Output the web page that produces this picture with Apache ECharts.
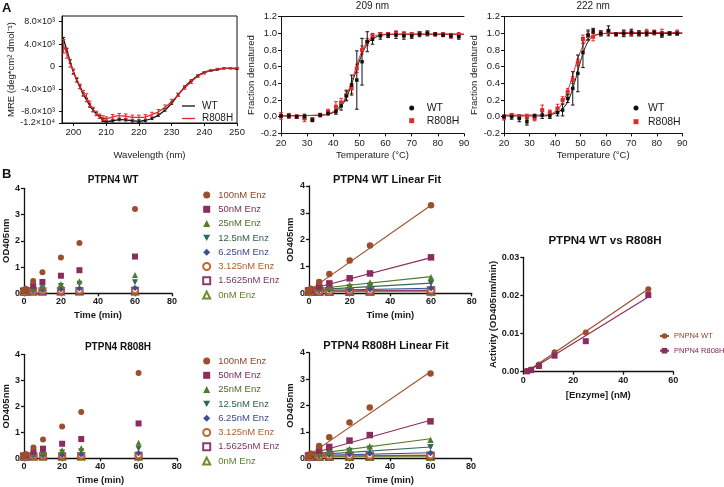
<!DOCTYPE html>
<html><head><meta charset="utf-8">
<script src="https://cdn.jsdelivr.net/npm/echarts@6/dist/echarts.min.js"></script>
<style>html,body{margin:0;padding:0;background:#fff}#c{width:724px;height:487px}</style>
</head><body><div id="c"></div>
<script>
const FONT = "'Liberation Sans', Arial, Helvetica, sans-serif";

// ---------------- Panel A: CD spectrum ----------------
const wavelengths = [197,198,199,200,201,202,203,204,205,206,207,208,209,210,212,214,216,218,220,222,224,226,228,230,232,234,236,238,240,242,244,246,248,250];
const mreWT = [4800,2900,900,-900,-2400,-3600,-4900,-5900,-6900,-7700,-8400,-8900,-9500,-9750,-9600,-9400,-9450,-9600,-9700,-9550,-9200,-8600,-7700,-6500,-5000,-3600,-2500,-1600,-1000,-700,-500,-300,-300,-400];
const mreWTErr = [400,300,300,300,300,300,300,300,300,300,250,250,250,250,200,200,200,200,200,200,200,200,200,200,200,150,150,150,100,100,100,100,100,100];
const mreR808H = [3600,2400,600,-900,-2300,-3500,-4700,-5500,-6600,-7600,-8300,-8800,-9100,-9200,-8900,-8700,-8800,-9000,-9000,-8900,-8500,-8000,-7200,-6200,-5000,-3700,-2700,-1700,-1100,-700,-450,-300,-250,-250];
const mreR808HErr = [1200,900,700,500,400,400,500,700,500,400,400,400,400,300,400,400,400,400,400,400,400,400,400,400,300,300,300,200,200,150,150,100,100,100];
const mreTickValues = [-10000,-8000,-4000,0,4000,8000];
const mreTickLabels = ['-1.2×10⁴','-8.0×10³','-4.0×10³','0','4.0×10³','8.0×10³'];
const wlTickValues = [200,210,220,230,240,250];

// ---------------- Panel A: thermal melts ----------------
const meltTemps = [20,23,26,29,32,35,38,41,43,45,47,49,51,53,55,58,61,64,67,70,73,76,79,82,85,88];
const frac209WT = [0.01,0.01,0.00,0.00,-0.04,0.02,0.04,0.06,0.13,0.25,0.38,0.44,0.66,0.90,0.93,0.97,0.98,0.98,0.97,0.97,0.99,1.00,0.99,0.98,0.97,0.96];
const err209WT = [0.02,0.02,0.02,0.03,0.02,0.02,0.02,0.03,0.05,0.06,0.12,0.35,0.28,0.12,0.06,0.04,0.03,0.04,0.04,0.03,0.03,0.03,0.02,0.02,0.02,0.03];
const frac209R = [0.01,0.01,0.00,-0.02,-0.03,0.02,0.06,0.12,0.17,0.26,0.34,0.58,0.80,0.90,0.97,0.99,0.99,1.00,0.99,0.99,1.00,1.00,0.99,0.99,0.97,0.98];
const err209R = [0.04,0.03,0.02,0.04,0.02,0.02,0.03,0.06,0.05,0.06,0.06,0.05,0.05,0.04,0.03,0.02,0.02,0.03,0.03,0.02,0.02,0.02,0.02,0.02,0.03,0.03];
const frac222WT = [0.00,0.00,-0.02,-0.06,0.01,0.02,0.01,0.05,0.08,0.22,0.34,0.52,0.77,0.98,1.03,1.00,1.03,0.99,1.00,1.01,1.00,1.00,1.01,0.99,1.00,1.00];
const err222WT = [0.02,0.03,0.04,0.04,0.02,0.04,0.03,0.04,0.07,0.05,0.20,0.22,0.18,0.06,0.03,0.03,0.06,0.02,0.04,0.04,0.03,0.03,0.02,0.03,0.02,0.02];
const frac222R = [-0.01,0.02,0.00,0.00,-0.02,0.08,0.05,0.10,0.20,0.30,0.44,0.65,0.93,0.97,0.96,1.00,1.02,0.99,1.00,1.00,1.00,1.01,1.01,1.00,1.00,1.01];
const err222R = [0.03,0.02,0.02,0.03,0.03,0.06,0.03,0.05,0.04,0.04,0.04,0.04,0.05,0.05,0.05,0.03,0.03,0.02,0.03,0.03,0.03,0.04,0.03,0.05,0.02,0.03];
const fitTemps = [20,36,38,40,42,44,45,46,47,48,49,50,51,52,53,54,55,56,58,60,65,90];
const fit209WT = [0.01,0.02,0.03,0.05,0.09,0.17,0.23,0.30,0.39,0.48,0.57,0.67,0.75,0.82,0.87,0.91,0.93,0.95,0.975,0.985,0.99,0.99];
const fit209R = [0.01,0.02,0.04,0.06,0.11,0.19,0.26,0.33,0.42,0.52,0.62,0.71,0.79,0.85,0.90,0.93,0.95,0.97,0.985,0.99,0.99,0.99];
const fit222WT = [0.01,0.01,0.02,0.04,0.07,0.13,0.18,0.25,0.34,0.44,0.55,0.66,0.76,0.84,0.90,0.94,0.965,0.98,0.99,1.00,1.00,1.00];
const fit222R = [0.02,0.02,0.03,0.06,0.12,0.23,0.31,0.40,0.50,0.60,0.70,0.78,0.85,0.90,0.94,0.96,0.975,0.985,0.995,1.00,1.01,1.01];

// ---------------- Panel B: kinetics ----------------
const enzLabels = ['100nM Enz','50nM Enz','25nM Enz','12.5nM Enz','6.25nM Enz','3.125nM Enz','1.5625nM Enz','0nM Enz'];
const timesMin = [0,1,5,10,20,30,60];
// data shown in "PTPN4 WT" scatter and "PTPN4 R808H Linear Fit"
const odA_100 = [0.10,0.17,0.47,0.80,1.36,1.92,3.21];
const odA_50 = [0.10,0.13,0.29,0.43,0.67,0.88,1.40];
const odA_25 = [0.09,0.10,0.17,0.24,0.35,0.46,0.70];
const odA_12 = [0.08,0.09,0.14,0.19,0.28,0.36,0.42];
const odA_6 = [0.08,0.09,0.11,0.13,0.15,0.18,0.20];
const odA_3 = [0.07,0.08,0.09,0.10,0.10,0.11,0.12];
const odA_1 = [0.07,0.07,0.08,0.08,0.09,0.09,0.10];
const odA_0 = [0.06,0.06,0.06,0.06,0.06,0.06,0.06];
// data shown in "PTPN4 WT Linear Fit" and "PTPN4 R808H" scatter
const odB_100 = [0.10,0.17,0.42,0.72,1.22,1.78,3.28];
const odB_50 = [0.10,0.12,0.25,0.37,0.56,0.74,1.34];
const odB_25 = [0.09,0.10,0.18,0.23,0.31,0.40,0.60];
const odB_12 = [0.08,0.09,0.14,0.17,0.22,0.27,0.37];
const odB_6 = [0.08,0.09,0.11,0.12,0.13,0.15,0.19];
const odB_3 = [0.07,0.08,0.09,0.09,0.10,0.10,0.12];
const odB_1 = [0.07,0.07,0.08,0.08,0.08,0.09,0.10];
const odB_0 = [0.06,0.06,0.06,0.06,0.06,0.06,0.06];
const fitTimes = [0,60];
const fitA_start = [0.12,0.15,0.14,0.12,0.10,0.08,0.07,0.06];
const fitA_end = [3.28,1.44,0.74,0.43,0.21,0.12,0.10,0.06];
const fitB_start = [0.10,0.14,0.14,0.12,0.10,0.08,0.07,0.06];
const fitB_end = [3.28,1.33,0.62,0.38,0.19,0.12,0.10,0.06];

// ---------------- Panel B: activity vs enzyme ----------------
const enzConc = [1.5625,3.125,6.25,12.5,25,50];
const actWT = [0.0002,0.0006,0.0019,0.0051,0.0103,0.0216];
const actR808H = [0.0001,0.0004,0.0015,0.0042,0.0080,0.0201];
const actFitConc = [1.5625,50];
const actFitWT = [0.0001,0.0217];
const actFitR808H = [0.0000,0.0196];

// ---------------- styles ----------------
const DOWN_TRI = 'path://M0,0 L10,0 L5,9 Z';
const enzColors = ['#9c4f2b','#8a2d5c','#557a2a','#2d6a5a','#3a4e9c','#c0652f','#8b3a6c','#6f8f2a'];
const enzTextColors = ['#8a4a2c','#7d2a55','#4d6b2a','#2d5f52','#3b4a86','#b0602f','#7d3563','#5f7f26'];
const enzSymbols = ['circle','rect','triangle',DOWN_TRI,'diamond','emptyCircle','emptyRect','emptyTriangle'];
const RED = '#e02a2a';

const grids=[], xAxes=[], yAxes=[], series=[], legends=[], graphics=[];

function mkAxis(gi, o){
  const bold = !!o.bold;
  const a = {
    type:'value', gridIndex:gi, min:o.min, max:o.max,
    position:o.position,
    axisLine:{show:true,onZero:false,lineStyle:{color:'#111',width:o.lw||1}},
    axisTick:{show:o.noTick?false:true,length:o.tl||3,lineStyle:{color:'#111',width:o.lw||1}},
    axisLabel:{show:o.noLabel?false:true,color:'#1a1a1a',fontSize:o.fs||9.5,fontFamily:FONT,fontWeight:bold?'bold':'normal',margin:o.margin||4},
    splitLine:{show:false},
    name:o.name||'', nameLocation:'middle', nameGap:o.nameGap||10,
    nameTextStyle:{color:'#1a1a1a',fontSize:o.nfs||10,fontFamily:FONT,fontWeight:bold?'bold':'normal'}
  };
  if (o.interval!=null) a.interval=o.interval;
  if (o.fmt) a.axisLabel.formatter=o.fmt;
  if (o.customValues){ a.axisLabel.customValues=o.customValues; a.axisTick.customValues=o.customValues; }
  return a;
}
function addGrid(g){ grids.push(Object.assign({containLabel:false},g)); return grids.length-1; }
function addX(gi,o){ xAxes.push(mkAxis(gi,o)); return xAxes.length-1; }
function addY(gi,o){ yAxes.push(mkAxis(gi,o)); return yAxes.length-1; }

function errSeries(name, xi, yi, xs, vals, errs, color, cap){
  return {
    type:'custom', name, xAxisIndex:xi, yAxisIndex:yi, silent:true, z:4, clip:false,
    data: xs.map((x,i)=>[x, vals[i]-errs[i], vals[i]+errs[i]]),
    renderItem:(p,api)=>{
      const a=api.coord([api.value(0),api.value(1)]), b=api.coord([api.value(0),api.value(2)]);
      const st={stroke:color,lineWidth:1};
      return {type:'group',children:[
        {type:'line',shape:{x1:a[0],y1:a[1],x2:b[0],y2:b[1]},style:st},
        {type:'line',shape:{x1:a[0]-cap,y1:a[1],x2:a[0]+cap,y2:a[1]},style:st},
        {type:'line',shape:{x1:b[0]-cap,y1:b[1],x2:b[0]+cap,y2:b[1]},style:st}]};
    }
  };
}
const zip=(xs,ys)=>xs.map((x,i)=>[x,ys[i]]);

// ===== A: CD =====
{
  const gi = addGrid({left:62, top:16, width:175, height:107, show:true, borderColor:'#111', borderWidth:1});
  const xi = addX(gi,{min:196.5,max:250,customValues:wlTickValues,name:'Wavelength (nm)',nameGap:27,nfs:9.5,margin:4});
  const yi = addY(gi,{min:-10000,max:9000,customValues:mreTickValues,fmt:v=>mreTickLabels[mreTickValues.indexOf(v)]||'',
      name:'MRE (deg*cm² dmol⁻¹)',nameGap:45,nfs:9.5,fs:9,margin:7});
  series.push({type:'line',name:'cd_WT',xAxisIndex:xi,yAxisIndex:yi,data:zip(wavelengths,mreWT),symbol:'none',smooth:0.3,
    lineStyle:{color:'#111',width:1.3},itemStyle:{color:'#111'},z:3});
  series.push({type:'line',name:'cd_R808H',xAxisIndex:xi,yAxisIndex:yi,data:zip(wavelengths,mreR808H),symbol:'none',smooth:0.3,
    lineStyle:{color:RED,width:1.3},itemStyle:{color:RED},z:3});
  series.push(errSeries('cd_WTerr',xi,yi,wavelengths,mreWT,mreWTErr,'#111',1.5));
  series.push(errSeries('cd_Rerr',xi,yi,wavelengths,mreR808H,mreR808HErr,RED,1.8));
  legends.push({orient:'vertical',left:182,top:99.75,padding:0,itemGap:0,itemWidth:13,itemHeight:10,selectedMode:false,
    icon:'path://M0,0 L13,0 L13,1.3 L0,1.3 Z',
    data:['cd_WT','cd_R808H'],formatter:n=>n.split('_')[1],
    textStyle:{fontFamily:FONT,fontSize:10,lineHeight:12.5,color:'#1a1a1a',padding:[0,0,0,2]}});
}

// ===== A: melts =====
function meltPanel(tag, left, width, wt, wtErr, r, rErr, fitW, fitR, title, legLeft, legPad, legLH){
  const gi = addGrid({left, top:16.7, width, height:116.7});
  const xi = addX(gi,{min:20,max:90,interval:10,name:'Temperature (°C)',nameGap:17,nfs:9.5,margin:5});
  addX(gi,{min:20,max:90,position:'top',noTick:true,noLabel:true});
  const yi = addY(gi,{min:-0.2,max:1.2,interval:0.2,fmt:v=>v.toFixed(1),name:'Fraction denatured',nameGap:22,nfs:9.5,margin:4});
  series.push({type:'line',name:tag+'fit_WT',xAxisIndex:xi,yAxisIndex:yi,data:zip(fitTemps,fitW),symbol:'none',smooth:0.4,
    lineStyle:{color:'#111',width:1},z:2});
  series.push({type:'line',name:tag+'fit_R808H',xAxisIndex:xi,yAxisIndex:yi,data:zip(fitTemps,fitR),symbol:'none',smooth:0.4,
    lineStyle:{color:RED,width:1},z:2});
  series.push(errSeries(tag+'errR',xi,yi,meltTemps,r,rErr,RED,1.8));
  series.push({type:'scatter',name:tag+'_R808H',xAxisIndex:xi,yAxisIndex:yi,data:zip(meltTemps,r),symbol:'rect',symbolSize:4,
    itemStyle:{color:RED,opacity:1},z:5});
  series.push(errSeries(tag+'errW',xi,yi,meltTemps,wt,wtErr,'#111',1.8));
  series.push({type:'scatter',name:tag+'_WT',xAxisIndex:xi,yAxisIndex:yi,data:zip(meltTemps,wt),symbol:'rect',symbolSize:3.5,
    itemStyle:{color:'#111',opacity:1},z:6});
  legends.push({orient:'vertical',left:legLeft,top:108-legLH/2,padding:0,itemGap:0,itemWidth:5,itemHeight:5,selectedMode:false,
    data:[{name:tag+'_WT',icon:'circle'},{name:tag+'_R808H',icon:'rect'}],formatter:n=>n.split('_')[1],
    textStyle:{fontFamily:FONT,fontSize:10.5,lineHeight:legLH,color:'#1a1a1a',padding:[0,0,0,legPad]}});
  graphics.push({type:'text',x:left+width/2,y:6.5,style:{text:title,align:'center',verticalAlign:'middle',font:'10px '+FONT,fill:'#1a1a1a'}});
}
meltPanel('m209',281,183,frac209WT,err209WT,frac209R,err209R,fit209WT,fit209R,'209 nm',409.2,7.5,12.7);
meltPanel('m222',504,178.3,frac222WT,err222WT,frac222R,err222R,fit222WT,fit222R,'222 nm',633.5,4.5,13.7);

// ===== B: kinetics =====
const setA = [odA_100,odA_50,odA_25,odA_12,odA_6,odA_3,odA_1,odA_0];
const setB = [odB_100,odB_50,odB_25,odB_12,odB_6,odB_3,odB_1,odB_0];
function kinPanel(tag, g, data, fitStart, fitEnd, title, titleX, titleY, nameGapY, legendTop, symSize, titleFs){
  const gi = addGrid(g);
  const xi = addX(gi,{min:0,max:80,interval:20,bold:true,fs:9,lw:1.3,name:'Time (min)',nameGap:17,nfs:9.5,margin:4});
  const yi = addY(gi,{min:0,max:4,interval:1,bold:true,fs:9,lw:1.3,name:'OD405nm',nameGap:nameGapY,nfs:9.5,margin:4});
  enzLabels.forEach((lab,k)=>{
    if (fitStart){
      series.push({type:'line',name:tag+'fit'+k,xAxisIndex:xi,yAxisIndex:yi,data:[[fitTimes[0],fitStart[k]],[fitTimes[1],fitEnd[k]]],
        symbol:'none',lineStyle:{color:enzColors[k],width:1.1},z:2});
    }
  });
  for (let k=enzLabels.length-1;k>=0;k--){
    const empty = enzSymbols[k].startsWith('empty');
    series.push({type:'scatter',name:tag+'_'+enzLabels[k],xAxisIndex:xi,yAxisIndex:yi,data:zip(timesMin,data[k]),
      symbol:enzSymbols[k],symbolSize:symSize,
      itemStyle:{color:enzColors[k],borderColor:enzColors[k],borderWidth:empty?1.2:0,opacity:1},z:5});
  }
  if (legendTop!=null){
    legends.push({orient:'vertical',left:202.2,top:legendTop,padding:0,itemGap:0,itemWidth:7,itemHeight:7,selectedMode:false,
      data:enzLabels.map((l,k)=>({name:tag+'_'+l,textStyle:{color:enzTextColors[k]}})),formatter:n=>n.split('_')[1],
      textStyle:{fontFamily:FONT,fontSize:9.5,lineHeight:14.3,padding:[0,0,0,3]}});
  }
  graphics.push({type:'text',x:titleX,y:titleY,style:{text:title,align:'center',verticalAlign:'middle',font:'bold '+titleFs+'px '+FONT,fill:'#111'}});
}
kinPanel('tl',{left:23.5,top:188.3,width:148.5,height:105},setA,null,null,'PTPN4 WT',113,180.5,11.5,187.85,6,10);
kinPanel('tm',{left:309,top:186,width:162.7,height:107.3},setB,fitB_start,fitB_end,'PTPN4 WT Linear Fit',387,179.5,14,null,6.5,11);
kinPanel('bl',{left:23.5,top:354.3,width:153.3,height:104},setB,null,null,'PTPN4 R808H',118,347,11.5,353.85,6,10);
kinPanel('bm',{left:309,top:352.7,width:162,height:105.6},setA,fitA_start,fitA_end,'PTPN4 R808H Linear Fit',386,346,14,null,6.5,11);

// ===== B: activity =====
{
  const gi = addGrid({left:523.3,top:257.3,width:150,height:114.4});
  const xi = addX(gi,{min:0,max:60,interval:20,bold:true,fs:9,lw:1.3,name:'[Enzyme] (nM)',nameGap:19,nfs:9.5,margin:4});
  const yi = addY(gi,{min:0,max:0.03,interval:0.01,bold:true,fs:9,lw:1.3,fmt:v=>v.toFixed(2),name:'Activity (OD405nm/min)',nameGap:20,nfs:9.5,margin:4});
  series.push({type:'line',name:'act_PNPN4 WT',xAxisIndex:xi,yAxisIndex:yi,data:zip(actFitConc,actFitWT),symbol:'circle',showSymbol:false,symbolSize:6,
    lineStyle:{color:enzColors[0],width:1.2},itemStyle:{color:enzColors[0]},z:2});
  series.push({type:'line',name:'act_PNPN4 R808H',xAxisIndex:xi,yAxisIndex:yi,data:zip(actFitConc,actFitR808H),symbol:'rect',showSymbol:false,symbolSize:6,
    lineStyle:{color:enzColors[1],width:1.2},itemStyle:{color:enzColors[1]},z:2});
  series.push({type:'scatter',name:'actpts_WT',xAxisIndex:xi,yAxisIndex:yi,data:zip(enzConc,actWT),symbol:'circle',symbolSize:6,
    itemStyle:{color:enzColors[0],opacity:1},z:5});
  series.push({type:'scatter',name:'actpts_R',xAxisIndex:xi,yAxisIndex:yi,data:zip(enzConc,actR808H),symbol:'rect',symbolSize:6,
    itemStyle:{color:enzColors[1],opacity:1},z:5});
  legends.push({orient:'vertical',left:659,top:328.65,padding:0,itemGap:0,itemWidth:9,itemHeight:7,selectedMode:false,
    data:[{name:'act_PNPN4 WT',textStyle:{color:enzTextColors[0]}},{name:'act_PNPN4 R808H',textStyle:{color:enzTextColors[1]}}],
    formatter:n=>n.split('_')[1],
    textStyle:{fontFamily:FONT,fontSize:7.5,lineHeight:14.7}});
  graphics.push({type:'text',x:605,y:241,style:{text:'PTPN4 WT vs R808H',align:'center',verticalAlign:'middle',font:'bold 11.5px '+FONT,fill:'#111'}});
}

graphics.push({type:'text',x:2,y:8,style:{text:'A',align:'left',verticalAlign:'middle',font:'bold 13px '+FONT,fill:'#111'}});
graphics.push({type:'text',x:2,y:174,style:{text:'B',align:'left',verticalAlign:'middle',font:'bold 13px '+FONT,fill:'#111'}});

const chart = echarts.init(document.getElementById('c'), null, {renderer:'canvas'});
chart.setOption({
  animation:false, backgroundColor:'#fff',
  textStyle:{fontFamily:FONT},
  grid:grids, xAxis:xAxes, yAxis:yAxes, series, legend:legends, graphic:graphics, tooltip:{show:false}
});
</script></body></html>
